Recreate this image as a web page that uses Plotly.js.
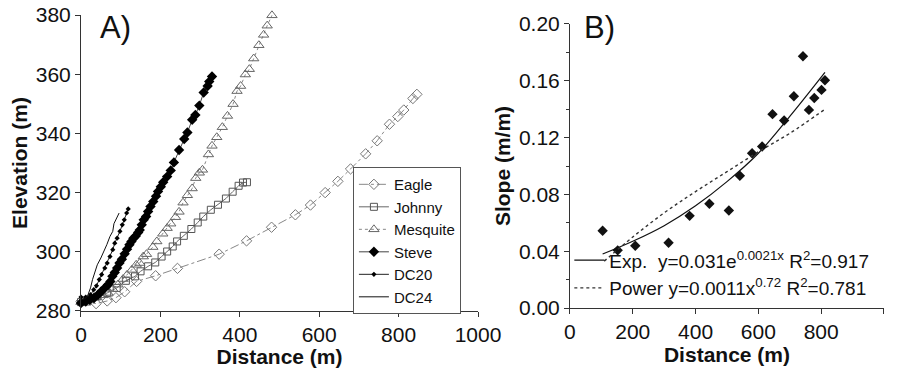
<!DOCTYPE html>
<html>
<head>
<meta charset="utf-8">
<script src="https://cdn.plot.ly/plotly-3.0.1.min.js"></script>
<style>html,body{margin:0;padding:0;background:#fff;}#chart{width:898px;height:368px;}</style>
</head>
<body>
<div id="chart"></div>
<script>
// ---- Panel A: elevation profiles ----
const eagleD = [0, 38, 66, 88, 110, 140, 188, 243, 348, 417, 480, 540, 578, 615, 647, 679, 717, 746, 777, 798, 813, 836, 846];
const eagleE = [283.3, 282.5, 283.4, 284.5, 286.5, 290.0, 291.9, 294.4, 299.2, 303.7, 308.3, 312.5, 315.8, 320.0, 323.8, 328.0, 333.1, 337.5, 343.1, 345.7, 347.9, 351.8, 353.2];

const johnnyD = [0, 16, 40, 66, 90, 113, 136, 150, 169, 187, 203, 217, 231, 242, 259, 278, 294, 308, 327, 345, 365, 382, 397, 408, 418];
const johnnyE = [283.0, 283.2, 284.9, 286.1, 287.8, 290.2, 291.7, 293.4, 295.1, 296.4, 298.4, 300.1, 301.8, 303.5, 305.4, 307.7, 309.9, 311.9, 314.2, 315.9, 318.0, 320.3, 322.3, 323.4, 323.5];

const mesquiteD = [0, 20, 40, 55, 68, 80, 93, 106, 116, 128, 139, 148, 157, 165, 181, 191, 206, 217, 226, 238, 247, 257, 268, 280, 289, 298, 306, 321, 330, 342, 356, 369, 383, 393, 402, 414, 424, 435, 448, 460, 469, 481];
const mesquiteE = [283.0, 283.6, 284.6, 285.3, 286.1, 287.4, 288.9, 290.8, 292.2, 293.9, 295.6, 296.2, 298.4, 299.2, 301.6, 303.5, 306.1, 308.0, 309.5, 311.7, 313.5, 316.6, 319.1, 321.4, 324.9, 326.7, 327.7, 332.9, 335.8, 338.7, 342.1, 345.9, 349.9, 354.3, 356.0, 359.9, 361.7, 365.3, 369.8, 373.3, 376.4, 379.9];

const steveD = [0, 12, 22, 33, 43, 51, 60, 68, 74, 79, 85, 91, 97, 103, 110, 116, 122, 127, 132, 138, 144, 148, 153, 158, 164, 169, 175, 182, 189, 194, 201, 207, 217, 226, 234, 247, 260, 268, 280, 288, 298, 309, 319, 323, 330];
const steveE = [282.7, 283.2, 283.8, 284.4, 285.5, 286.6, 287.8, 288.9, 290.0, 291.7, 293.0, 294.5, 296.2, 297.5, 299.3, 300.9, 302.4, 303.5, 304.6, 305.3, 306.5, 307.4, 309.1, 310.8, 311.9, 313.6, 315.3, 317.0, 318.8, 320.4, 322.0, 323.5, 325.4, 327.5, 330.2, 334.4, 338.1, 340.3, 344.6, 346.2, 349.4, 353.8, 356.0, 357.5, 359.2];

const dc20D = [0, 12, 24, 32, 39, 46, 52, 60, 66, 73, 80, 85, 91, 98, 104, 109, 115, 119];
const dc20E = [284.7, 284.7, 285.5, 287.2, 288.5, 290.6, 292.3, 294.5, 296.2, 298.4, 300.7, 302.9, 304.6, 306.9, 309.1, 310.8, 313.1, 314.5];

const dc24D = [0, 8, 16, 24, 29, 35, 41, 50, 56, 65, 73, 80, 83, 90, 96];
const dc24E = [283.8, 284.0, 284.9, 287.8, 290.6, 293.4, 295.6, 297.9, 299.6, 302.4, 305.2, 306.9, 309.5, 311.4, 313.1];

// ---- Panel B: slope vs distance ----
const slopeD = [104, 152, 208, 314, 381, 444, 506, 541, 580, 612, 645, 682, 713, 742, 761, 778, 801, 812];
const slopeS = [0.0544, 0.0406, 0.0438, 0.0460, 0.0649, 0.0734, 0.0687, 0.0931, 0.1090, 0.1137, 0.1365, 0.1320, 0.1491, 0.1773, 0.1395, 0.1479, 0.1536, 0.1604];

const expFitD = [104, 200, 300, 400, 500, 600, 700, 812];
const expFitS = [0.038, 0.047, 0.058, 0.072, 0.089, 0.109, 0.135, 0.166];
const powFitD = [109, 200, 300, 400, 500, 600, 700, 812];
const powFitS = [0.033, 0.050, 0.067, 0.082, 0.096, 0.110, 0.123, 0.140];

const seriesNames = ["Eagle", "Johnny", "Mesquite", "Steve", "DC20", "DC24"];
const fitNames = ["Exp.  y=0.031e<sup>0.0021x</sup> R<sup>2</sup>=0.917",
                  "Power y=0.0011x<sup>0.72</sup> R<sup>2</sup>=0.781"];

const FONT = "Liberation Sans, Arial, sans-serif";

const traces = [
  {x: eagleD, y: eagleE, name: seriesNames[0], mode: "lines+markers", cliponaxis: false,
   line: {color: "#888", width: 1, dash: "dashdot"},
   marker: {symbol: "diamond-open", size: 8, color: "#777", line: {width: 1}}, legend: "legend"},
  {x: johnnyD, y: johnnyE, name: seriesNames[1], mode: "lines+markers", cliponaxis: false,
   line: {color: "#666", width: 1},
   marker: {symbol: "square-open", size: 7, color: "#555", line: {width: 1}}, legend: "legend"},
  {x: mesquiteD, y: mesquiteE, name: seriesNames[2], mode: "lines+markers", cliponaxis: false,
   line: {color: "#888", width: 1, dash: "dot"},
   marker: {symbol: "triangle-up-open", size: 9, color: "#666", line: {width: 1}}, legend: "legend"},
  {x: steveD, y: steveE, name: seriesNames[3], mode: "lines+markers", cliponaxis: false,
   line: {color: "#444", width: 1},
   marker: {symbol: "diamond", size: 8, color: "#000"}, legend: "legend"},
  {x: dc20D, y: dc20E, name: seriesNames[4], mode: "lines+markers", cliponaxis: false,
   line: {color: "#222", width: 1},
   marker: {symbol: "diamond", size: 4, color: "#000"}, legend: "legend"},
  {x: dc24D, y: dc24E, name: seriesNames[5], mode: "lines", cliponaxis: false,
   line: {color: "#111", width: 1}, legend: "legend"},
  {x: slopeD, y: slopeS, xaxis: "x2", yaxis: "y2", mode: "markers", showlegend: false, cliponaxis: false,
   marker: {symbol: "diamond", size: 8, color: "#111"}},
  {x: expFitD, y: expFitS, xaxis: "x2", yaxis: "y2", mode: "lines", name: fitNames[0],
   line: {color: "#111", width: 1.2, shape: "spline"}, legend: "legend2"},
  {x: powFitD, y: powFitS, xaxis: "x2", yaxis: "y2", mode: "lines", name: fitNames[1],
   line: {color: "#333", width: 1.4, dash: "dot", shape: "spline"}, legend: "legend2"}
];

const axisCommon = {
  showgrid: false, zeroline: false, showline: true, linecolor: "#333", linewidth: 1,
  ticks: "outside", ticklen: 5, tickcolor: "#333", tickwidth: 1,
  tickfont: {family: FONT, size: 21, color: "#111"}
};
const titleFont = {family: FONT, size: 21, color: "#111"};

const layout = {
  width: 898, height: 368,
  margin: {l: 0, r: 0, t: 0, b: 0},
  paper_bgcolor: "#fff", plot_bgcolor: "#fff",
  font: {family: FONT, color: "#111"},
  xaxis: Object.assign({}, axisCommon, {domain: [0.0902, 0.5323], range: [0, 1000], dtick: 200, anchor: "y",
    title: {text: "<b>Distance (m)</b>", font: titleFont, standoff: 0}}),
  yaxis: Object.assign({}, axisCommon, {domain: [0.1549, 0.9592], range: [280, 380], dtick: 20, anchor: "x",
    title: {text: "<b>Elevation (m)</b>", font: titleFont, standoff: 2}}),
  xaxis2: Object.assign({}, axisCommon, {domain: [0.6347, 0.9844], range: [0, 1000], dtick: 200, anchor: "y2",
    title: {text: "<b>Distance (m)</b>", font: titleFont, standoff: 0}}),
  yaxis2: Object.assign({}, axisCommon, {domain: [0.163, 0.9348], range: [0, 0.2], dtick: 0.04, tickformat: ".2f", anchor: "x2",
    minor: {ticks: "outside", ticklen: 3, dtick: 0.02, tickcolor: "#333"},
    title: {text: "<b>Slope (m/m)</b>", font: titleFont, standoff: 2}}),
  legend: {x: 0.393, y: 0.546, xanchor: "left", yanchor: "top", bgcolor: "#fff",
    bordercolor: "#555", borderwidth: 1, font: {family: FONT, size: 15, color: "#111"},
    tracegroupgap: 0, itemwidth: 30},
  legend2: {x: 0.634, y: 0.165, xanchor: "left", yanchor: "bottom", bgcolor: "rgba(0,0,0,0)",
    borderwidth: 0, font: {family: FONT, size: 19, color: "#111"}, itemwidth: 30},
  annotations: [
    {text: "A)", xref: "paper", yref: "paper", x: 0.129, y: 0.924, xanchor: "center", yanchor: "middle",
     showarrow: false, font: {family: FONT, size: 31, color: "#111"}},
    {text: "B)", xref: "paper", yref: "paper", x: 0.668, y: 0.924, xanchor: "center", yanchor: "middle",
     showarrow: false, font: {family: FONT, size: 31, color: "#111"}}
  ]
};

Plotly.newPlot("chart", traces, layout, {staticPlot: true, displayModeBar: false});
</script>
</body>
</html>
